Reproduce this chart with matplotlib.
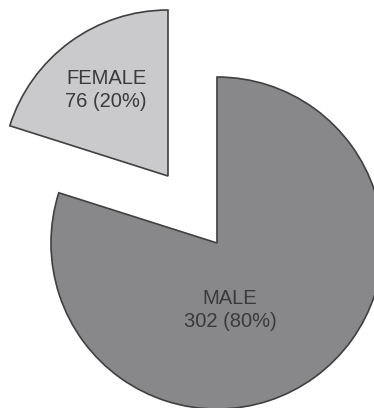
import matplotlib
matplotlib.use("Agg")
import matplotlib.pyplot as plt

# data
labels = ["MALE", "FEMALE"]
counts = [302, 76]
colors = ["#88888b", "#cacacc"]
explode = [0, 0.5]

total = sum(counts)
texts = [f"{lab}\n{c} ({round(100 * c / total)}%)" for lab, c in zip(labels, counts)]

fig = plt.figure(figsize=(3.74, 4.08), dpi=100)
ax = fig.add_axes([0, 0, 1, 1])

wedges, _ = ax.pie(counts, colors=colors, explode=explode, startangle=90,
                   counterclock=False, radius=1,
                   wedgeprops=dict(edgecolor="#404040", linewidth=1.2))

# pixel -> data mapping (pie centre at pixel 217,243, radius 166 px)
scale = 166.0
cx, cy = 217, 243
ax.set_xlim(-cx / scale, (374 - cx) / scale)
ax.set_ylim(-(408 - cy) / scale, cy / scale)
ax.set_aspect("equal")
ax.axis("off")

label_pos = [((230 - cx) / scale, (cy - 310) / scale),
             ((106 - cx) / scale, (cy - 90) / scale)]
for t, (x, y) in zip(texts, label_pos):
    ax.text(x, y, t, ha="center", va="center", fontsize=14.5,
            family="Liberation Sans", color="#3a3a3a", linespacing=1.25)

fig.savefig("out.png", dpi=100)
